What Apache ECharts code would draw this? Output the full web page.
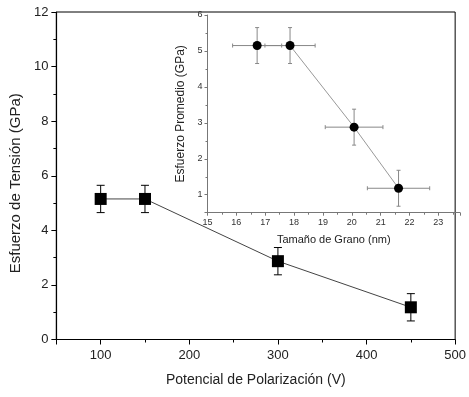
<!DOCTYPE html>
<html>
<head>
<meta charset="utf-8">
<script src="https://cdn.jsdelivr.net/npm/echarts@6/dist/echarts.min.js"></script>
<style>html,body{margin:0;padding:0;background:#fff}#c{width:469px;height:397px}</style>
</head>
<body>
<div id="c"></div>
<script>
// Main plot data
const voltage = [100, 150, 300, 450];
const stress = [5.15, 5.15, 2.87, 1.18];
const stressErr = [0.5, 0.5, 0.5, 0.5];
// Inset data
const grainSize = [16.72, 17.86, 20.08, 21.62];
const grainErr = [0.85, 0.87, 1.0, 1.08];
const avgStress = [5.15, 5.15, 2.88, 1.18];
const avgStressErr = [0.5, 0.5, 0.5, 0.5];

const FONT = 'Liberation Sans, Arial, sans-serif';

const mainLine = voltage.map((v, i) => [v, stress[i]]);
const mainErr = voltage.map((v, i) => [v, stress[i], stressErr[i]]);
const insetLine = grainSize.map((v, i) => [v, avgStress[i]]);
const insetErr = grainSize.map((v, i) => [v, avgStress[i], grainErr[i], avgStressErr[i]]);

function intLabel(v) { return Math.abs(v - Math.round(v)) < 1e-9 ? String(Math.round(v)) : ''; }

const chart = echarts.init(document.getElementById('c'), null, {renderer: 'canvas'});
chart.setOption({
  animation: false,
  backgroundColor: '#fff',
  grid: [
    {left: 55, right: 9, top: 12, bottom: 57.5, show: true, borderColor: '#000', borderWidth: 1, backgroundColor: 'transparent'},
    {left: 207.5, right: 9, top: 15, bottom: 184.3}
  ],
  xAxis: [
    {
      gridIndex: 0, type: 'value', min: 50, max: 500, minInterval: 100, maxInterval: 100,
      name: 'Potencial de Polarización (V)', nameLocation: 'middle', nameGap: 34,
      nameTextStyle: {fontFamily: FONT, fontSize: 14, color: '#222'},
      axisLine: {lineStyle: {color: '#000', width: 1.2}},
      axisTick: {show: true, length: 5, inside: false, lineStyle: {color: '#000'}},
      minorTick: {show: true, splitNumber: 2, length: 3, lineStyle: {color: '#000'}},
      axisLabel: {fontFamily: FONT, fontSize: 13, color: '#222', margin: 9,
        formatter: v => (v % 100 === 0 ? String(v) : '')},
      splitLine: {show: false}
    },
    {
      gridIndex: 1, type: 'value', min: 15, max: 23.75, minInterval: 1, maxInterval: 1,
      name: 'Tamaño de Grano (nm)', nameLocation: 'middle', nameGap: 22,
      nameTextStyle: {fontFamily: FONT, fontSize: 11, color: '#222'},
      axisLine: {lineStyle: {color: '#777', width: 1}},
      axisTick: {show: true, length: 3, lineStyle: {color: '#777'}},
      minorTick: {show: true, splitNumber: 2, length: 2, lineStyle: {color: '#777'}},
      axisLabel: {fontFamily: FONT, fontSize: 9, color: '#333', margin: 5, formatter: intLabel},
      splitLine: {show: false}
    }
  ],
  yAxis: [
    {
      gridIndex: 0, type: 'value', min: 0, max: 12, interval: 2,
      name: 'Esfuerzo de Tensión (GPa)', nameLocation: 'middle', nameGap: 31,
      nameTextStyle: {fontFamily: FONT, fontSize: 15, color: '#222', padding: [0, 15, 0, 0]},
      axisLine: {lineStyle: {color: '#000', width: 1.2}},
      axisTick: {show: true, length: 5, lineStyle: {color: '#000'}},
      minorTick: {show: true, splitNumber: 2, length: 3, lineStyle: {color: '#000'}},
      axisLabel: {fontFamily: FONT, fontSize: 13, color: '#222', margin: 8},
      splitLine: {show: false}
    },
    {
      gridIndex: 1, type: 'value', min: 0.5, max: 6, minInterval: 1, maxInterval: 1,
      name: 'Esfuerzo Promedio (GPa)', nameLocation: 'middle', nameGap: 13,
      nameTextStyle: {fontFamily: FONT, fontSize: 12, color: '#222'},
      axisLine: {lineStyle: {color: '#777', width: 1}},
      axisTick: {show: true, length: 3, lineStyle: {color: '#777'}},
      minorTick: {show: true, splitNumber: 2, length: 2, lineStyle: {color: '#777'}},
      axisLabel: {fontFamily: FONT, fontSize: 9, color: '#333', margin: 5, formatter: intLabel},
      splitLine: {show: false}
    }
  ],
  series: [
    {
      type: 'line', xAxisIndex: 0, yAxisIndex: 0, data: mainLine,
      lineStyle: {color: '#444', width: 1}, symbol: 'none', z: 2
    },
    {
      type: 'custom', xAxisIndex: 0, yAxisIndex: 0, data: mainErr, z: 3,
      renderItem: function (params, api) {
        const x = api.value(0), y = api.value(1), e = api.value(2);
        const lo = api.coord([x, y - e]), hi = api.coord([x, y + e]);
        const cap = 4;
        const st = {stroke: '#000', lineWidth: 1};
        return {type: 'group', children: [
          {type: 'line', shape: {x1: lo[0], y1: lo[1], x2: hi[0], y2: hi[1]}, style: st},
          {type: 'line', shape: {x1: lo[0] - cap, y1: lo[1], x2: lo[0] + cap, y2: lo[1]}, style: st},
          {type: 'line', shape: {x1: hi[0] - cap, y1: hi[1], x2: hi[0] + cap, y2: hi[1]}, style: st}
        ]};
      }
    },
    {
      type: 'scatter', xAxisIndex: 0, yAxisIndex: 0, data: mainLine,
      symbol: 'rect', symbolSize: 12, itemStyle: {color: '#000', opacity: 1}, z: 4
    },
    {
      type: 'line', xAxisIndex: 1, yAxisIndex: 1, data: insetLine,
      lineStyle: {color: '#999', width: 1}, symbol: 'none', z: 2
    },
    {
      type: 'custom', xAxisIndex: 1, yAxisIndex: 1, data: insetErr, z: 3,
      renderItem: function (params, api) {
        const x = api.value(0), y = api.value(1), ex = api.value(2), ey = api.value(3);
        const l = api.coord([x - ex, y]), r = api.coord([x + ex, y]);
        const b = api.coord([x, y - ey]), t = api.coord([x, y + ey]);
        const cap = 2;
        const st = {stroke: '#888', lineWidth: 1};
        return {type: 'group', children: [
          {type: 'line', shape: {x1: l[0], y1: l[1], x2: r[0], y2: r[1]}, style: st},
          {type: 'line', shape: {x1: l[0], y1: l[1] - cap, x2: l[0], y2: l[1] + cap}, style: st},
          {type: 'line', shape: {x1: r[0], y1: r[1] - cap, x2: r[0], y2: r[1] + cap}, style: st},
          {type: 'line', shape: {x1: b[0], y1: b[1], x2: t[0], y2: t[1]}, style: st},
          {type: 'line', shape: {x1: b[0] - cap, y1: b[1], x2: b[0] + cap, y2: b[1]}, style: st},
          {type: 'line', shape: {x1: t[0] - cap, y1: t[1], x2: t[0] + cap, y2: t[1]}, style: st}
        ]};
      }
    },
    {
      type: 'scatter', xAxisIndex: 1, yAxisIndex: 1, data: insetLine,
      symbol: 'circle', symbolSize: 9, itemStyle: {color: '#000', opacity: 1}, z: 4
    }
  ]
});
</script>
</body>
</html>
